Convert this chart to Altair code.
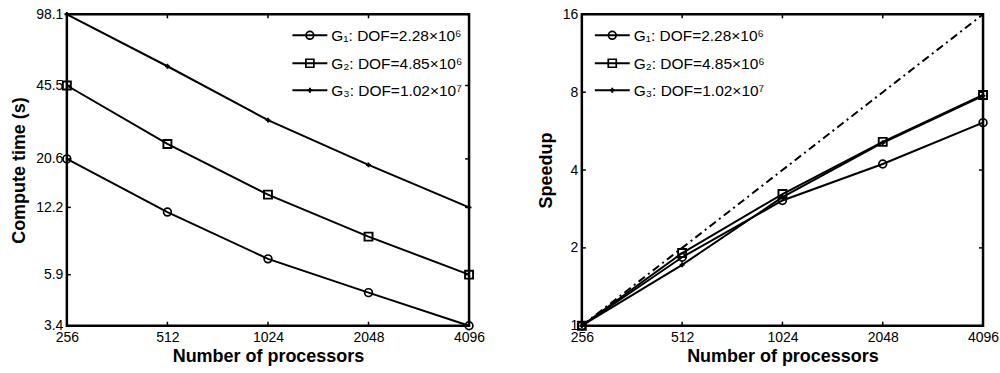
import altair as alt
import pandas as pd

# ---------------- data ----------------
procs = [256, 512, 1024, 2048, 4096]
series = ["G1", "G2", "G3"]
time_g1 = [20.6, 11.6, 7.0, 4.86, 3.4]
time_g2 = [45.5, 24.2, 14.0, 8.9, 5.9]
time_g3 = [98.1, 56.0, 31.3, 19.3, 12.2]
speed_g1 = [1.0, 1.84, 3.05, 4.22, 6.1]
speed_g2 = [1.0, 1.91, 3.23, 5.14, 7.8]
speed_g3 = [1.0, 1.72, 3.14, 5.1, 7.75]
ideal_procs = [256, 4096]
ideal_speed = [1, 16]
legend_labels = ["G\u2081: DOF=2.28\u00d710\u2076",
                 "G\u2082: DOF=4.85\u00d710\u2076",
                 "G\u2083: DOF=1.02\u00d710\u2077"]
time_ticks = [3.4, 5.9, 12.2, 20.6, 45.5, 98.1]
speed_ticks = [1, 2, 4, 8, 16]

W, H = 403, 312
FONT = "Liberation Sans"


def long_df(vals):
    rows = []
    for s, v in zip(series, vals):
        for p, y in zip(procs, v):
            rows.append({"procs": p, "value": y, "series": s})
    return pd.DataFrame(rows)


time_df = long_df([time_g1, time_g2, time_g3])
speed_df = long_df([speed_g1, speed_g2, speed_g3])
ideal_df = pd.DataFrame({"procs": ideal_procs, "value": ideal_speed})


def panel(df, ytitle, yticks, ydomain, ybase, yfmt, legend_x, ideal=None, width=W):
    xscale = alt.Scale(type="log", base=2, domain=[256, 4096], nice=False)
    yscale = alt.Scale(type="log", base=ybase, domain=ydomain, nice=False)
    xaxis = alt.Axis(values=procs, format="d", title="Number of processors",
                     tickSize=0, labelPadding=5, titlePadding=3, grid=False,
                     domain=False, labelFlush=False, labelOverlap=False,
                     labelBound=False)
    yaxis = alt.Axis(values=yticks, format=yfmt, title=ytitle, tickSize=0,
                     labelPadding=4, titlePadding=7, grid=False, domain=False,
                     labelFlush=False, labelOverlap=False, labelBound=False)
    X = alt.X("procs:Q", scale=xscale, axis=xaxis)
    Y = alt.Y("value:Q", scale=yscale, axis=yaxis)

    layers = []
    lines = alt.Chart(df).mark_line(color="black", strokeWidth=2).encode(
        x=X, y=Y, detail="series:N")
    layers.append(lines)
    if ideal is not None:
        layers.append(alt.Chart(ideal).mark_line(
            color="black", strokeWidth=2, strokeDash=[8, 4, 2, 4]).encode(x=X, y=Y))
    layers.append(alt.Chart(df).transform_filter("datum.series == 'G1'").mark_point(
        shape="circle", filled=False, color="black", size=60, strokeWidth=1.7,
        opacity=1).encode(x=X, y=Y))
    layers.append(alt.Chart(df).transform_filter("datum.series == 'G2'").mark_point(
        shape="square", filled=False, color="black", size=64, strokeWidth=1.9,
        opacity=1).encode(x=X, y=Y))
    layers.append(alt.Chart(df).transform_filter("datum.series == 'G3'").mark_point(
        shape="cross", filled=True, color="black", size=24,
        opacity=1).encode(x=X, y=Y))

    # inward ticks (MATLAB style), mirrored on all four sides
    ytk = pd.DataFrame({"value": yticks})
    xtk = pd.DataFrame({"procs": procs})
    layers.append(alt.Chart(ytk).mark_rule(color="black", strokeWidth=1.5).encode(
        y=Y, x=alt.value(0), x2=alt.value(4)))
    layers.append(alt.Chart(ytk).mark_rule(color="black", strokeWidth=1.5).encode(
        y=Y, x=alt.value(width - 4), x2=alt.value(width)))
    layers.append(alt.Chart(xtk).mark_rule(color="black", strokeWidth=1.5).encode(
        x=X, y=alt.value(H - 4), y2=alt.value(H)))
    layers.append(alt.Chart(xtk).mark_rule(color="black", strokeWidth=1.5).encode(
        x=X, y=alt.value(0), y2=alt.value(4)))

    # legend
    shapes = [("circle", False, 60), ("square", False, 64), ("cross", True, 24)]
    rows_y = [21, 49, 76]
    one = pd.DataFrame({"k": [0]})
    for lab, (shp, fil, sz), ry in zip(legend_labels, shapes, rows_y):
        layers.append(alt.Chart(one).mark_rule(color="black", strokeWidth=2).encode(
            x=alt.value(legend_x), x2=alt.value(legend_x + 35), y=alt.value(ry)))
        layers.append(alt.Chart(one).mark_point(
            shape=shp, filled=fil, color="black", size=sz, strokeWidth=1.7,
            opacity=1).encode(x=alt.value(legend_x + 17.5), y=alt.value(ry)))
        layers.append(alt.Chart(one).mark_text(
            text=lab, align="left", baseline="middle", font=FONT, fontSize=15.5,
            color="black").encode(x=alt.value(legend_x + 39), y=alt.value(ry + 1)))

    return alt.layer(*layers).properties(width=width, height=H)


left = panel(time_df, "Compute time (s)", time_ticks, [3.4, 98.1], 10, ".1f", 226)
right = panel(speed_df, "Speedup", speed_ticks, [1, 16], 2, "d", 13,
              ideal=ideal_df, width=402)

chart = alt.hconcat(left, right, spacing=50).properties(
    padding={"left": 9, "top": 5, "right": 0, "bottom": 0},
    background="white"
).configure_view(
    stroke="black", strokeWidth=2.5
).configure_axis(
    labelFont=FONT, labelFontSize=14, labelColor="black",
    titleFont=FONT, titleFontSize=18, titleFontWeight="bold", titleColor="black"
)

chart.save("out.html", embed_options={"renderer": "svg", "actions": False})
